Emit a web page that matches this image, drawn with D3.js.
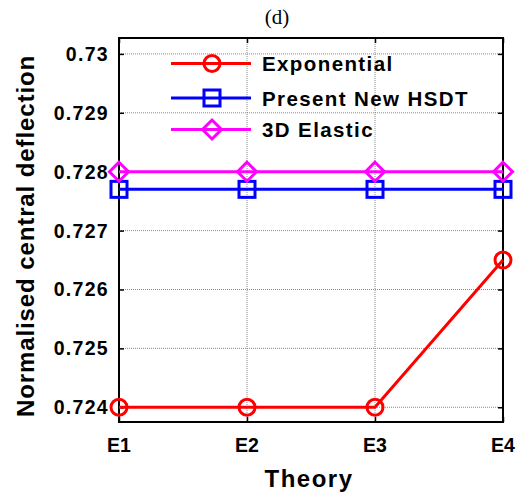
<!DOCTYPE html>
<html>
<head>
<meta charset="utf-8">
<script src="https://cdn.jsdelivr.net/npm/d3@7"></script>
<style>
  html, body { margin: 0; padding: 0; background: #fff; }
  svg { display: block; }
  .lbl { font-family: "Liberation Sans", Arial, sans-serif; font-weight: bold; fill: #000; }
</style>
</head>
<body>
<svg id="chart" width="523" height="494"></svg>
<script>
// Categories and values
const theories = ["E1", "E2", "E3", "E4"];
const exponential = [0.724, 0.724, 0.724, 0.7265];
const presentHSDT = [0.7277, 0.7277, 0.7277, 0.7277];
const elastic3D = [0.728, 0.728, 0.728, 0.728];
const yTicks = [0.724, 0.725, 0.726, 0.727, 0.728, 0.729, 0.73];
const yTickLabels = ["0.724", "0.725", "0.726", "0.727", "0.728", "0.729", "0.73"];
const seriesNames = ["Exponential", "Present New HSDT", "3D Elastic"];

const svg = d3.select("#chart");
const margin = { left: 119, top: 38, right: 503, bottom: 422 };

const x = d3.scalePoint().domain(theories).range([margin.left, margin.right]);
const y = d3.scaleLinear().domain([0.72375, 0.73027]).range([margin.bottom, margin.top]);

const series = [
  { name: seriesNames[0], values: exponential, color: "#ff0000", marker: "circle" },
  { name: seriesNames[1], values: presentHSDT, color: "#0000ff", marker: "square" },
  { name: seriesNames[2], values: elastic3D, color: "#ff00ff", marker: "diamond" }
];

// Dotted grid
const grid = svg.append("g");
grid.selectAll("line.gy").data(yTicks).join("line")
  .attr("x1", margin.left).attr("x2", margin.right)
  .attr("y1", d => y(d)).attr("y2", d => y(d))
  .attr("stroke", "#8a8a8a").attr("stroke-width", 1).attr("stroke-dasharray", "1,1");
grid.selectAll("line.gx").data(theories).join("line")
  .attr("x1", d => x(d)).attr("x2", d => x(d))
  .attr("y1", margin.top).attr("y2", margin.bottom)
  .attr("stroke", "#8a8a8a").attr("stroke-width", 1).attr("stroke-dasharray", "1,1");

// Axes: ticks point inward on all four sides
const tl = 5;
svg.append("g").attr("transform", `translate(${margin.left},0)`)
  .call(d3.axisLeft(y).tickValues(yTicks).tickSize(-tl).tickFormat(""))
  .call(g => g.select(".domain").remove());
svg.append("g").attr("transform", `translate(${margin.right},0)`)
  .call(d3.axisRight(y).tickValues(yTicks).tickSize(-tl).tickFormat(""))
  .call(g => g.select(".domain").remove());
svg.append("g").attr("transform", `translate(0,${margin.bottom})`)
  .call(d3.axisBottom(x).tickSize(-tl).tickFormat(""))
  .call(g => g.select(".domain").remove());
svg.append("g").attr("transform", `translate(0,${margin.top})`)
  .call(d3.axisTop(x).tickSize(-tl).tickFormat(""))
  .call(g => g.select(".domain").remove());
svg.selectAll(".tick line").attr("stroke", "#000").attr("stroke-width", 1.5);

svg.append("rect")
  .attr("x", margin.left).attr("y", margin.top)
  .attr("width", margin.right - margin.left).attr("height", margin.bottom - margin.top)
  .attr("fill", "none").attr("stroke", "#000").attr("stroke-width", 2);

// Tick labels
svg.selectAll("text.yt").data(yTicks).join("text")
  .attr("class", "lbl")
  .attr("x", margin.left - 10).attr("y", d => y(d) + 7)
  .attr("text-anchor", "end")
  .style("font-size", "19.5px").style("letter-spacing", "1.3px")
  .text((d, i) => yTickLabels[i]);
svg.selectAll("text.xt").data(theories).join("text")
  .attr("class", "lbl")
  .attr("x", d => x(d)).attr("y", 452)
  .attr("text-anchor", "middle")
  .style("font-size", "19.5px").style("letter-spacing", "0px")
  .text(d => d);

// Axis titles and panel label
svg.append("text").attr("class", "lbl")
  .attr("x", 309).attr("y", 487).attr("text-anchor", "middle")
  .style("font-size", "24px").style("letter-spacing", "1.5px")
  .text("Theory");
svg.append("text").attr("class", "lbl")
  .attr("transform", "translate(34,236) rotate(-90)").attr("text-anchor", "middle")
  .style("font-size", "24px").style("letter-spacing", "0.9px")
  .text("Normalised central deflection");
svg.append("text")
  .attr("x", 277).attr("y", 24).attr("text-anchor", "middle")
  .style("font-family", "'Liberation Serif', 'Times New Roman', serif")
  .style("font-size", "21px").attr("fill", "#000")
  .text("(d)");

// Marker drawing
function drawMarker(g, type, cx, cy, color) {
  if (type === "circle") {
    g.append("circle").attr("cx", cx).attr("cy", cy).attr("r", 8)
      .attr("fill", "none").attr("stroke", color).attr("stroke-width", 3);
  } else if (type === "square") {
    g.append("rect").attr("x", cx - 8).attr("y", cy - 8).attr("width", 16).attr("height", 16)
      .attr("fill", "none").attr("stroke", color).attr("stroke-width", 3);
  } else {
    const r = 9.5;
    g.append("path").attr("d", `M${cx},${cy - r}L${cx + r},${cy}L${cx},${cy + r}L${cx - r},${cy}Z`)
      .attr("fill", "none").attr("stroke", color).attr("stroke-width", 3);
  }
}

// Series lines with markers
const line = d3.line().x((d, i) => x(theories[i])).y(d => y(d));
series.forEach(s => {
  const g = svg.append("g");
  g.append("path").datum(s.values).attr("d", line)
    .attr("fill", "none").attr("stroke", s.color).attr("stroke-width", 3);
  s.values.forEach((v, i) => drawMarker(g, s.marker, x(theories[i]), y(v), s.color));
});

// Legend
const legRows = [63.5, 98, 129.5];
series.forEach((s, i) => {
  const g = svg.append("g");
  const ly = legRows[i];
  g.append("line").attr("x1", 171).attr("x2", 251).attr("y1", ly).attr("y2", ly)
    .attr("stroke", s.color).attr("stroke-width", 3);
  drawMarker(g, s.marker, 212, ly, s.color);
  g.append("text").attr("class", "lbl")
    .attr("x", 262).attr("y", ly + 7.5)
    .style("font-size", "20.5px").style("letter-spacing", "1.4px")
    .text(s.name);
});
</script>
</body>
</html>
